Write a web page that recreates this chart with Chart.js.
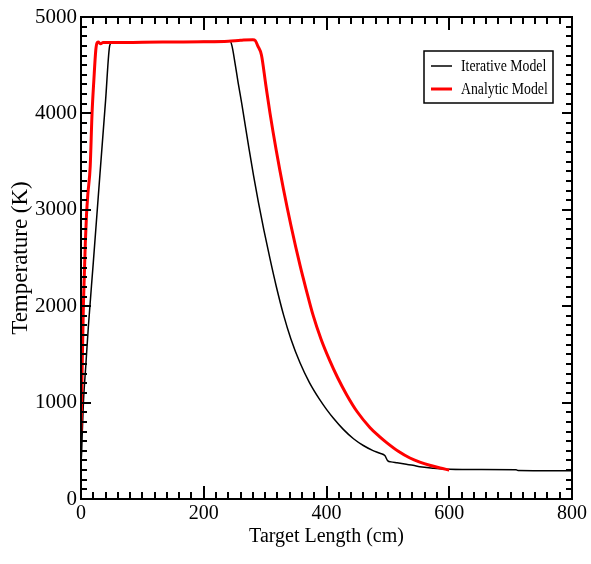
<!DOCTYPE html>
<html>
<head>
<meta charset="utf-8">
<script src="https://cdn.jsdelivr.net/npm/chart.js@4/dist/chart.umd.min.js"></script>
<style>
  html, body { margin: 0; padding: 0; background: #fff; }
  #wrap { width: 591px; height: 564px; position: relative; }
</style>
</head>
<body>
<div id="wrap"><canvas id="c" width="591" height="564"></canvas></div>
<script>
// ---- Data ----
const iterativeX = [0, 1, 2, 4, 8, 12, 20, 31, 40, 47, 50, 80, 120, 160, 200, 243, 246, 251, 256, 262, 268, 274, 281, 289, 298, 308, 318, 330, 342, 357, 372, 389, 400, 411, 427, 444, 460, 475, 487, 495, 500, 505, 515, 530, 541, 552, 575, 601, 650, 709, 712, 800];
const iterativeT = [380, 480, 680, 1010, 1400, 1790, 2450, 3380, 4130, 4710, 4730, 4735, 4738, 4742, 4745, 4748, 4700, 4520, 4320, 4100, 3860, 3625, 3360, 3080, 2790, 2490, 2210, 1910, 1660, 1410, 1210, 1030, 930, 840, 725, 625, 555, 505, 474, 450, 395, 385, 375, 360, 350, 335, 320, 308, 305, 303, 295, 292];

const analyticX = [0, 1, 2, 4, 7, 9, 11, 15, 18, 21, 24, 26, 28, 32, 36, 60, 100, 150, 200, 240, 260, 280, 284, 288, 294, 301, 308, 318, 330, 342, 357, 367, 378, 391, 405, 418, 433, 450, 471, 485, 498, 517, 536, 552, 568, 585, 600];
const analyticT = [700, 1000, 1400, 2030, 2650, 2950, 3150, 3450, 4000, 4350, 4650, 4730, 4740, 4722, 4735, 4735, 4738, 4740, 4742, 4748, 4758, 4765, 4755, 4700, 4606, 4300, 4000, 3620, 3210, 2840, 2420, 2170, 1910, 1660, 1440, 1260, 1080, 905, 740, 655, 585, 495, 425, 383, 350, 322, 300];

const seriesLabels = ['Iterative Model', 'Analytic Model'];
const xTickValues = [0, 200, 400, 600, 800];
const yTickValues = [0, 1000, 2000, 3000, 4000, 5000];
const xMinorStep = 20;
const yMinorStep = 100;
const xTitle = 'Target Length (cm)';
const yTitle = 'Temperature (K)';

// ---- Helpers ----
const toPoints = (xs, ys) => xs.map((v, i) => ({ x: v, y: ys[i] }));
const SERIF = '"Liberation Serif", "Times New Roman", Times, serif';

// Frame on all four sides with inward major/minor ticks
const frameTicks = {
  id: 'frameTicks',
  afterDatasetsDraw(chart) {
    const { ctx, chartArea: a, scales: { x, y } } = chart;
    ctx.save();
    ctx.strokeStyle = '#000';
    ctx.lineWidth = 2;
    ctx.strokeRect(a.left, a.top, a.right - a.left, a.bottom - a.top);
    const seg = (x1, y1, x2, y2) => { ctx.beginPath(); ctx.moveTo(x1, y1); ctx.lineTo(x2, y2); ctx.stroke(); };
    const xMin = xTickValues[0], xMax = xTickValues[xTickValues.length - 1];
    for (let v = xMin; v <= xMax + 1e-9; v += xMinorStep) {
      const px = Math.round(x.getPixelForValue(v));
      const major = xTickValues.includes(v);
      const len = major ? 13 : 7;
      seg(px, a.bottom, px, a.bottom - len);
      seg(px, a.top, px, a.top + len);
    }
    const yMin = yTickValues[0], yMax = yTickValues[yTickValues.length - 1];
    for (let v = yMin; v <= yMax + 1e-9; v += yMinorStep) {
      const py = Math.round(y.getPixelForValue(v));
      const major = yTickValues.includes(v);
      const len = major ? 10 : 6;
      seg(a.left, py, a.left + len, py);
      seg(a.right, py, a.right - len, py);
    }
    ctx.restore();
  }
};

// Boxed legend inside the plot area (entries taken from the datasets)
const boxLegend = {
  id: 'boxLegend',
  afterDraw(chart) {
    const { ctx } = chart;
    const box = { x: 424, y: 51, w: 129, h: 52 };
    ctx.save();
    ctx.fillStyle = '#fff';
    ctx.fillRect(box.x, box.y, box.w, box.h);
    ctx.strokeStyle = '#000';
    ctx.lineWidth = 1.5;
    ctx.strokeRect(box.x, box.y, box.w, box.h);
    ctx.textBaseline = 'middle';
    const rows = [66, 89];
    chart.data.datasets.forEach((ds, i) => {
      const yy = rows[i];
      ctx.strokeStyle = ds.borderColor;
      ctx.lineWidth = ds.borderWidth;
      ctx.beginPath();
      ctx.moveTo(431, yy);
      ctx.lineTo(452, yy);
      ctx.stroke();
      ctx.save();
      ctx.translate(461, yy + 0.5);
      ctx.scale(0.86, 1);
      ctx.font = '16px ' + SERIF;
      ctx.fillStyle = '#000';
      ctx.fillText(ds.label, 0, 0);
      ctx.restore();
    });
    ctx.restore();
  }
};

new Chart(document.getElementById('c'), {
  type: 'line',
  data: {
    datasets: [
      {
        label: seriesLabels[0],
        data: toPoints(iterativeX, iterativeT),
        borderColor: '#000000',
        borderWidth: 1.5,
        pointRadius: 0,
        cubicInterpolationMode: 'monotone',
        fill: false,
        order: 2
      },
      {
        label: seriesLabels[1],
        data: toPoints(analyticX, analyticT),
        borderColor: '#ff0000',
        borderWidth: 3,
        pointRadius: 0,
        cubicInterpolationMode: 'monotone',
        fill: false,
        order: 1
      }
    ]
  },
  options: {
    responsive: false,
    animation: false,
    devicePixelRatio: 1,
    layout: { padding: { left: 0, right: 19, top: 17, bottom: 0 } },
    plugins: {
      legend: { display: false },
      tooltip: { enabled: false }
    },
    scales: {
      x: {
        type: 'linear',
        min: xTickValues[0],
        max: xTickValues[xTickValues.length - 1],
        afterBuildTicks: (s) => { s.ticks = xTickValues.map(v => ({ value: v })); },
        afterFit: (s) => { s.height = 65; },
        ticks: { color: '#000', font: { family: SERIF, size: 20 }, padding: 3, maxRotation: 0, callback: (v) => String(v) },
        grid: { display: true, drawOnChartArea: false, drawTicks: false },
        border: { display: false },
        title: { display: true, text: xTitle, color: '#000', font: { family: SERIF, size: 20 }, padding: { top: 0, bottom: 15 } }
      },
      y: {
        type: 'linear',
        min: yTickValues[0],
        max: yTickValues[yTickValues.length - 1],
        afterBuildTicks: (s) => { s.ticks = yTickValues.map(v => ({ value: v })); },
        afterFit: (s) => { s.width = 81; },
        ticks: { color: '#000', font: { family: SERIF, size: 21 }, padding: 4, callback: (v) => String(v) },
        grid: { display: true, drawOnChartArea: false, drawTicks: false },
        border: { display: false },
        title: { display: true, text: yTitle, color: '#000', font: { family: SERIF, size: 23 }, padding: { top: 7, bottom: 0 } }
      }
    }
  },
  plugins: [frameTicks, boxLegend]
});
</script>
</body>
</html>
